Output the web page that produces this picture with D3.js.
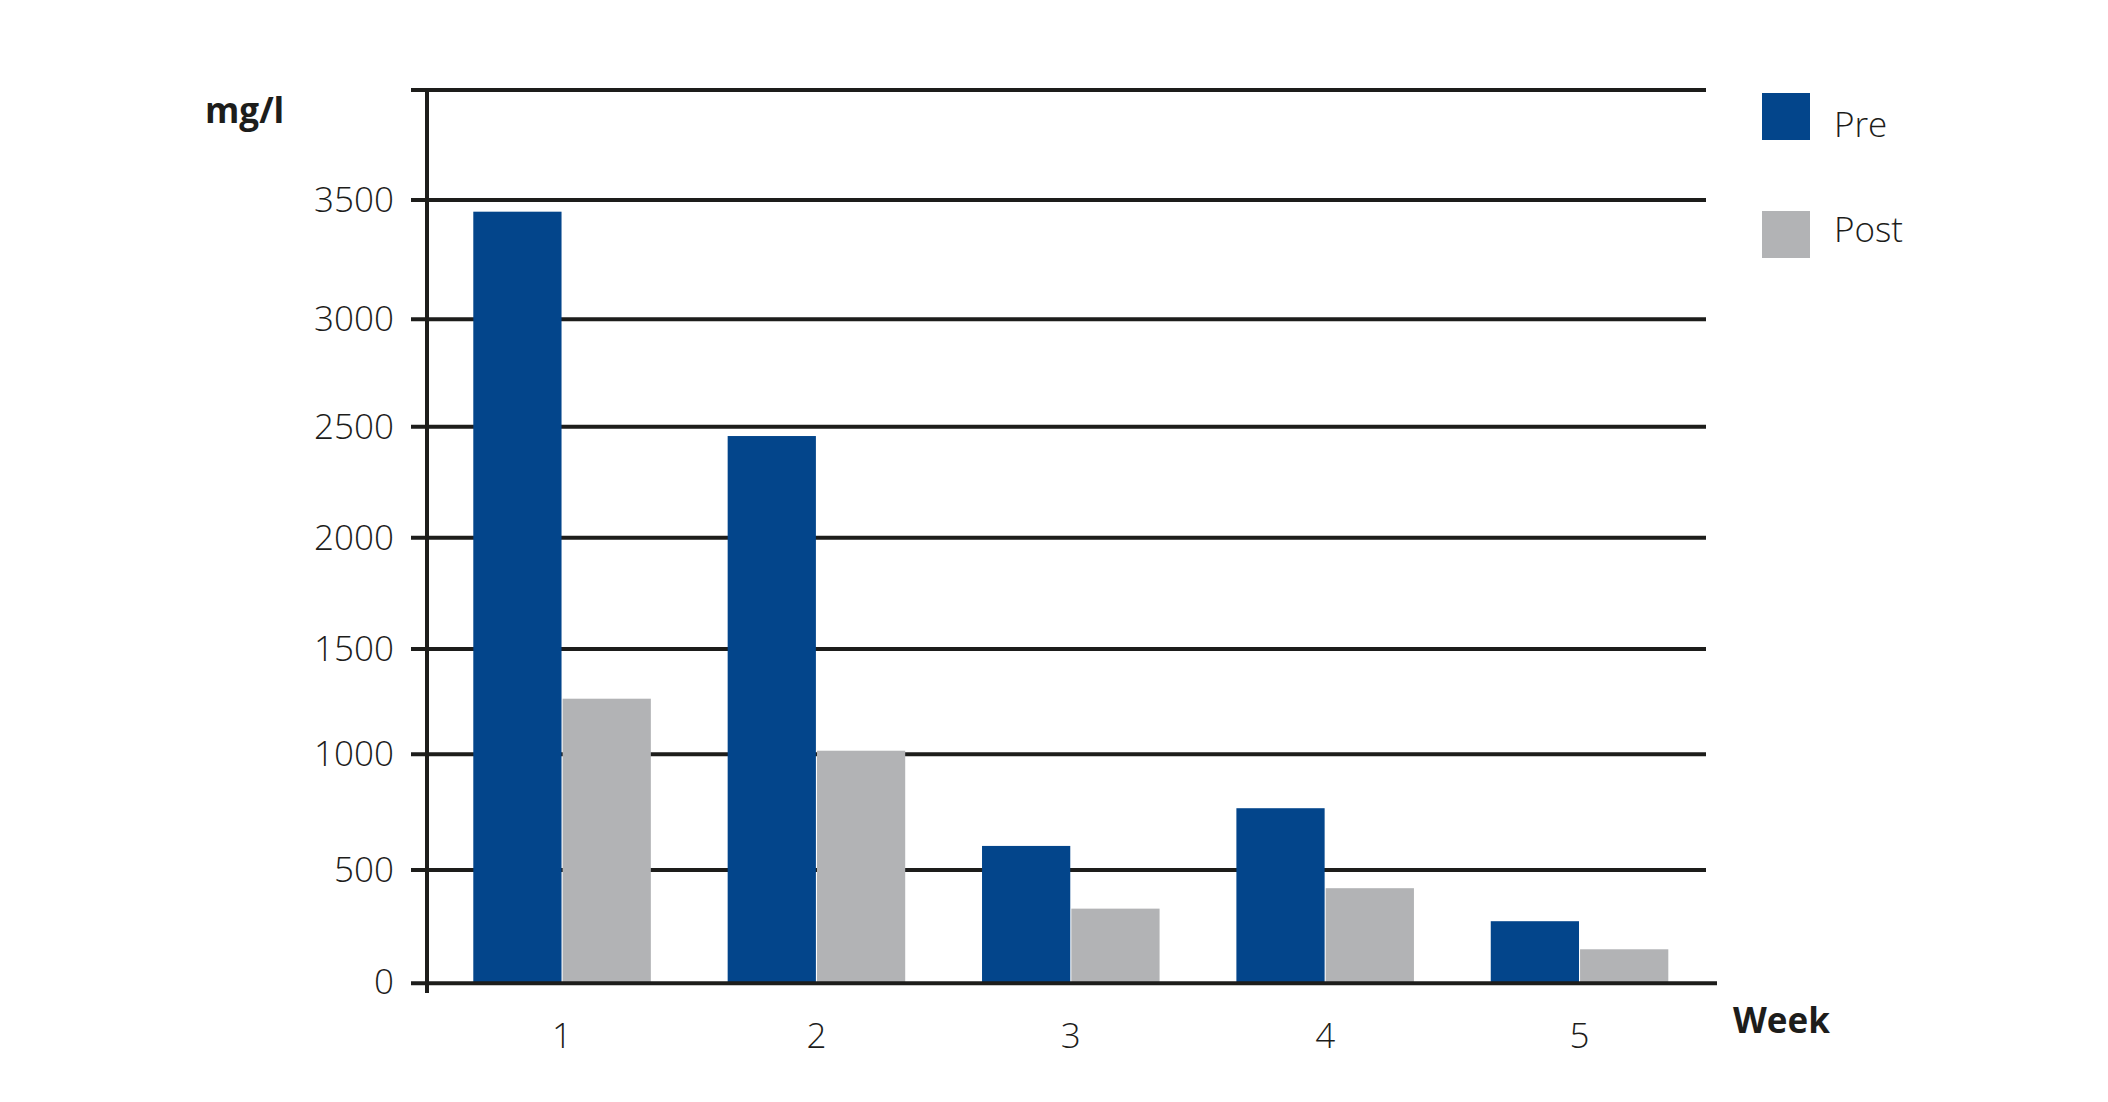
<!DOCTYPE html>
<html>
<head>
<meta charset="utf-8">
<script src="https://cdn.jsdelivr.net/npm/d3@7"></script>
<style>
	body { margin: 0; background: #fff; }
	text { font-family: "Open Sans", sans-serif; fill: #1d1d1b; }
	.tick-label { font-size: 35px; font-weight: 300; }
	.axis-title { font-size: 35px; font-weight: 700; }
</style>
</head>
<body>
<div id="chart"></div>
<script>
// data
var weeks = ["1", "2", "3", "4", "5"];
var seriesNames = ["Pre", "Post"];
var preValues = [3451, 2458, 604, 767, 272];
var postValues = [1264, 1017, 328, 419, 147];
var yTicks = [0, 500, 1000, 1500, 2000, 2500, 3000, 3500];
var gridValues = [500, 1000, 1500, 2000, 2500, 3000, 3500, 4000];

var colors = { Pre: "#03458b", Post: "#b2b3b5" };
var lineColor = "#1d1d1b";

var fullWidth = 2108,
	fullHeight = 1102;

var axisX = 427,
	gridLeft = 411,
	gridRight = 1706,
	baseRight = 1717;

var data = weeks.map(function(w, i) {
	return { week: w, Pre: preValues[i], Post: postValues[i] };
});

var svg = d3.select("#chart").append("svg")
	.attr("width", fullWidth)
	.attr("height", fullHeight);

// the printed grid is not evenly spaced, so the y scale is piecewise
var yScale = d3.scaleLinear()
	.domain([0, 500, 1000, 1500, 2000, 2500, 3000, 3500, 4000])
	.range([982.3, 870, 754.3, 649, 537.8, 426.7, 319.3, 200, 90]);

var x0 = d3.scaleBand()
	.domain(weeks)
	.range([427, 1714.6])
	.paddingInner(0.302)
	.paddingOuter(0.182);

var x1 = d3.scaleBand()
	.domain(seriesNames)
	.range([0, x0.bandwidth()])
	.paddingInner(0.012);

// horizontal grid lines with the little ticks left of the axis
svg.append("g")
	.attr("class", "grid")
	.selectAll("line")
	.data(gridValues)
	.enter().append("line")
	.attr("x1", gridLeft)
	.attr("x2", gridRight)
	.attr("y1", function(d) { return yScale(d); })
	.attr("y2", function(d) { return yScale(d); })
	.style("stroke", lineColor)
	.style("stroke-width", 4);

// bars
var groups = svg.append("g")
	.selectAll(".week")
	.data(data)
	.enter().append("g")
	.attr("class", "week")
	.attr("transform", function(d) { return "translate(" + x0(d.week) + ",0)"; });

groups.selectAll("rect")
	.data(function(d) { return seriesNames.map(function(k) { return { key: k, value: d[k] }; }); })
	.enter().append("rect")
	.attr("x", function(d) { return x1(d.key); })
	.attr("y", function(d) { return yScale(d.value); })
	.attr("width", x1.bandwidth())
	.attr("height", function(d) { return yScale(0) - yScale(d.value); })
	.style("fill", function(d) { return colors[d.key]; });

// baseline and y axis line drawn on top
svg.append("line")
	.attr("x1", gridLeft)
	.attr("x2", baseRight)
	.attr("y1", yScale(0) + 1)
	.attr("y2", yScale(0) + 1)
	.style("stroke", lineColor)
	.style("stroke-width", 4);

svg.append("line")
	.attr("x1", axisX)
	.attr("x2", axisX)
	.attr("y1", yScale(4000) - 2)
	.attr("y2", 993)
	.style("stroke", lineColor)
	.style("stroke-width", 4);

// y tick labels
svg.append("g")
	.selectAll("text")
	.data(yTicks)
	.enter().append("text")
	.attr("class", "tick-label")
	.attr("x", 394)
	.attr("y", function(d) { return yScale(d); })
	.attr("dy", "0.34em")
	.attr("text-anchor", "end")
	.text(function(d) { return d; });

// x labels
var xAxis = d3.axisBottom(x0).tickSize(0).tickPadding(0);
var xg = svg.append("g")
	.attr("transform", "translate(0,1048)")
	.call(xAxis);
xg.select(".domain").remove();
xg.selectAll("text")
	.attr("class", "tick-label")
	.attr("y", 0)
	.attr("dy", 0)
	.attr("font-family", null)
	.attr("font-size", null);

// axis titles
svg.append("text")
	.attr("class", "axis-title")
	.attr("x", 205)
	.attr("y", 123)
	.text("mg/l");

svg.append("text")
	.attr("class", "axis-title")
	.attr("x", 1733)
	.attr("y", 1033)
	.text("Week");

// legend
var legend = svg.append("g")
	.selectAll(".legend")
	.data(seriesNames)
	.enter().append("g")
	.attr("class", "legend")
	.attr("transform", function(d, i) { return "translate(1762," + (93 + i * 118) + ")"; });

legend.append("rect")
	.attr("width", 48)
	.attr("height", 47)
	.style("fill", function(d) { return colors[d]; });

legend.append("text")
	.attr("class", "tick-label")
	.attr("x", 72)
	.attr("y", function(d, i) { return i === 0 ? 44 : 31; })
	.text(function(d) { return d; });
</script>
</body>
</html>
